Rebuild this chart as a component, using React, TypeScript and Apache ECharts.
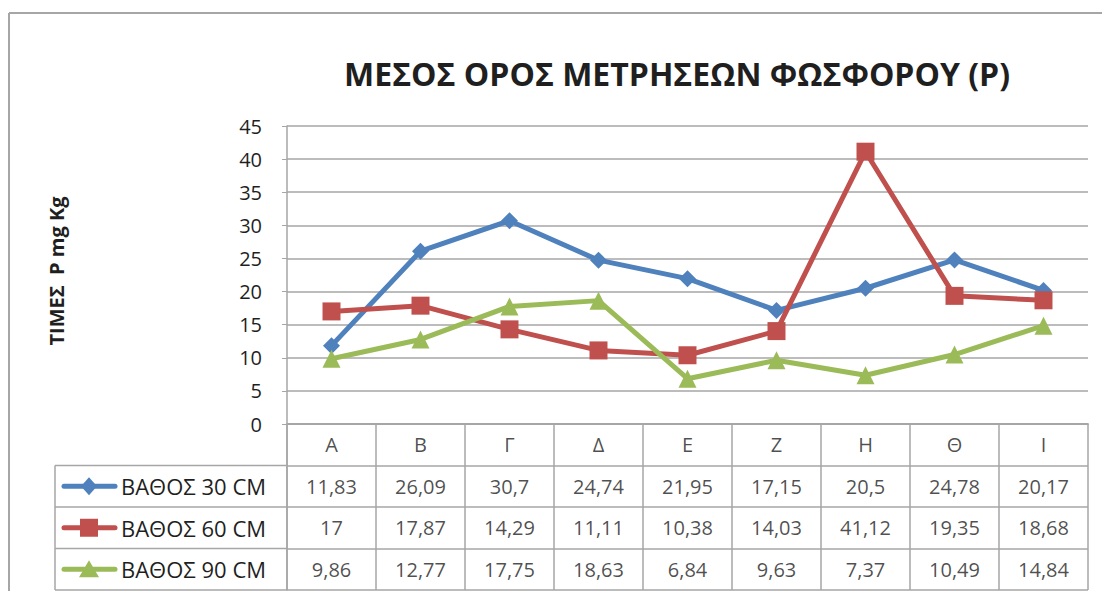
import React, { useEffect, useRef } from "react";
import * as echarts from "echarts";

const categories = ["Α", "Β", "Γ", "Δ", "Ε", "Ζ", "Η", "Θ", "Ι"];
const seriesNames = ["ΒΑΘΟΣ 30 CM", "ΒΑΘΟΣ 60 CM", "ΒΑΘΟΣ 90 CM"];
const depth30 = [11.83, 26.09, 30.7, 24.74, 21.95, 17.15, 20.5, 24.78, 20.17];
const depth60 = [17, 17.87, 14.29, 11.11, 10.38, 14.03, 41.12, 19.35, 18.68];
const depth90 = [9.86, 12.77, 17.75, 18.63, 6.84, 9.63, 7.37, 10.49, 14.84];
const colors = ["#4F81BD", "#C0504D", "#9BBB59"];
const symbols = ["diamond", "rect", "triangle"];
const symbolSizes = [17, 18, 18];
const title = "ΜΕΣΟΣ ΟΡΟΣ ΜΕΤΡΗΣΕΩΝ ΦΩΣΦΟΡΟΥ (P)";
const yTitle = "ΤΙΜΕΣ  P mg Kg";

const FONT = "'Open Sans', 'Noto Sans', sans-serif";
const GRAY = "#A6A6A6";
const TXT = "#1F1F1F";

export default function App() {
  const ref = useRef<HTMLDivElement>(null);
  useEffect(() => {
    document.body.style.margin = "0";
    const chart = echarts.init(ref.current!, null, { renderer: "svg" });
    const all = [depth30, depth60, depth90];
    const gl = { left: 287, width: 801 };
    const rowH = 41.5;
    const tTop = 424;

    const lineSeries = all.map((d, i) => ({
      name: seriesNames[i],
      type: "line",
      xAxisIndex: 0,
      yAxisIndex: 0,
      data: d,
      symbol: symbols[i],
      symbolSize: symbolSizes[i],
      lineStyle: { color: colors[i], width: 5 },
      itemStyle: { color: colors[i] },
      z: 3 + i,
    }));

    const headerSeries = {
      name: "hdr",
      type: "scatter",
      xAxisIndex: 1,
      yAxisIndex: 1,
      symbolSize: 0,
      data: categories.map((c, i) => [i, 0.5]),
      label: {
        show: true,
        position: "inside",
        formatter: (p: any) => categories[p.dataIndex],
        fontSize: 20,
        fontFamily: FONT,
        color: TXT,
      },
    };
    const valueSeries = all.map((d, r) => ({
      name: "row" + r,
      type: "scatter",
      xAxisIndex: 1,
      yAxisIndex: 1,
      symbolSize: 0,
      data: d.map((v, i) => [i, r + 1.5, v]),
      label: {
        show: true,
        position: "inside",
        formatter: (p: any) => String(p.value[2]).replace(".", ","),
        fontSize: 20,
        fontFamily: FONT,
        color: TXT,
      },
    }));

    const graphics: any[] = [
      { type: "line", shape: { x1: 9, y1: 13, x2: 1102, y2: 13 }, style: { stroke: GRAY, lineWidth: 2 } },
      { type: "line", shape: { x1: 9, y1: 13, x2: 9, y2: 591 }, style: { stroke: GRAY, lineWidth: 2 } },
      { type: "line", shape: { x1: 55, y1: tTop + rowH, x2: 55, y2: tTop + rowH * 4 }, style: { stroke: GRAY, lineWidth: 1.5 } },
    ];
    for (let k = 1; k <= 4; k++) {
      graphics.push({
        type: "line",
        shape: { x1: 55, y1: tTop + rowH * k, x2: gl.left, y2: tTop + rowH * k },
        style: { stroke: GRAY, lineWidth: 1.5 },
      });
    }
    // legend keys inside the data table
    seriesNames.forEach((name, i) => {
      const cy = tTop + rowH * (i + 1.5);
      const cx = 89;
      const children: any[] = [
        {
          type: "line",
          shape: { x1: 64, y1: cy, x2: 115, y2: cy },
          style: { stroke: colors[i], lineWidth: 5, lineCap: "round" },
        },
      ];
      if (symbols[i] === "diamond") {
        children.push({
          type: "polygon",
          shape: { points: [[cx, cy - 9], [cx + 8, cy], [cx, cy + 9], [cx - 8, cy]] },
          style: { fill: colors[i] },
        });
      } else if (symbols[i] === "rect") {
        children.push({
          type: "rect",
          shape: { x: cx - 9, y: cy - 9, width: 18, height: 18 },
          style: { fill: colors[i] },
        });
      } else {
        children.push({
          type: "polygon",
          shape: { points: [[cx, cy - 9], [cx + 10, cy + 8], [cx - 10, cy + 8]] },
          style: { fill: colors[i] },
        });
      }
      children.push({
        type: "text",
        x: 121,
        y: cy,
        style: { text: name, font: `22px ${FONT}`, fill: TXT, verticalAlign: "middle", align: "left" },
      });
      graphics.push({ type: "group", children });
    });
    graphics.push({
      type: "text",
      x: 56,
      y: 271,
      rotation: Math.PI / 2,
      style: {
        text: yTitle,
        font: `bold 20px ${FONT}`,
        fill: TXT,
        align: "center",
        verticalAlign: "middle",
      },
    });

    chart.setOption({
      animation: false,
      title: {
        text: title,
        left: 672,
        top: 52,
        textAlign: "center",
        textStyle: { fontFamily: FONT, fontSize: 32, fontWeight: "bold", color: TXT },
      },
      grid: [
        { left: gl.left, width: gl.width, top: 126, height: 298 },
        { left: gl.left, width: gl.width, top: tTop, height: rowH * 4 },
      ],
      xAxis: [
        {
          type: "category",
          gridIndex: 0,
          data: categories,
          boundaryGap: true,
          axisLabel: { show: false },
          axisTick: { show: false },
          axisLine: { show: true, lineStyle: { color: GRAY, width: 1.5 } },
        },
        {
          type: "category",
          gridIndex: 1,
          data: categories,
          boundaryGap: true,
          axisLabel: { show: false },
          axisTick: { show: false },
          axisLine: { show: true, lineStyle: { color: GRAY, width: 1.5 } },
          splitLine: { show: true, interval: 0, lineStyle: { color: GRAY, width: 1.5 } },
        },
      ],
      yAxis: [
        {
          type: "value",
          gridIndex: 0,
          min: 0,
          max: 45,
          interval: 5,
          axisLabel: { fontFamily: FONT, fontSize: 20, color: TXT, margin: 25 },
          axisTick: { show: true, length: 5, lineStyle: { color: GRAY } },
          axisLine: { show: true, lineStyle: { color: GRAY, width: 1.5 } },
          splitLine: { show: true, lineStyle: { color: GRAY, width: 1.5 } },
        },
        {
          type: "value",
          gridIndex: 1,
          min: 0,
          max: 4,
          interval: 1,
          inverse: true,
          axisLabel: { show: false },
          axisTick: { show: false },
          axisLine: { show: true, lineStyle: { color: GRAY, width: 1.5 } },
          splitLine: { show: true, lineStyle: { color: GRAY, width: 1.5 } },
        },
      ],
      graphic: graphics,
      series: [...lineSeries, headerSeries, ...valueSeries],
    });
    return () => chart.dispose();
  }, []);
  return <div ref={ref} style={{ width: 1102, height: 591 }} />;
}
